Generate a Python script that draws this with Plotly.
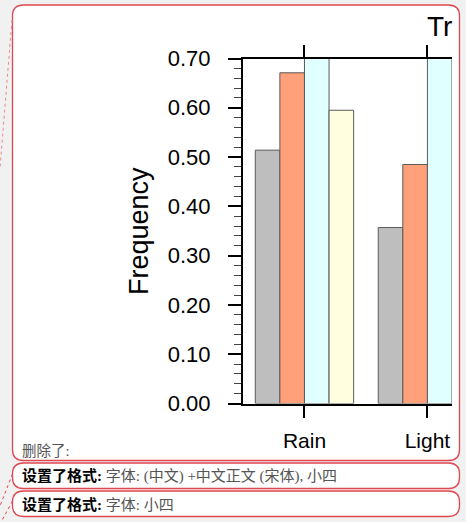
import plotly.graph_objects as go

W, H = 466, 522

# ---- data ----
categories = ["Rain", "Light"]
gray_vals = [0.514, 0.357]
orange_vals = [0.671, 0.485]
cyan_vals = [0.78, 0.80]      # exceed the 0.70 axis top (clipped in the picture)
yellow_vals = [0.595, None]   # second value lies outside the visible crop
y_ticks = [0.0, 0.1, 0.2, 0.3, 0.4, 0.5, 0.6, 0.7]
y_ticklabels = ["%.2f" % v for v in y_ticks]
title_text = "Tr"
ytitle = "Frequency"
note_deleted = "删除了:"
note_fmt1_label = "设置了格式:"
note_fmt1_text = " 字体: (中文) +中文正文 (宋体), 小四"
note_fmt2_label = "设置了格式:"
note_fmt2_text = " 字体: 小四"

def px(x):
    return x / W

def py(y):
    return 1 - y / H

def rrect(x0, y0, x1, y1, r):
    pts = [
        f"M {px(x0 + r)},{py(y0)}",
        f"L {px(x1 - r)},{py(y0)}",
        f"Q {px(x1)},{py(y0)} {px(x1)},{py(y0 + r)}",
        f"L {px(x1)},{py(y1 - r)}",
        f"Q {px(x1)},{py(y1)} {px(x1 - r)},{py(y1)}",
        f"L {px(x0 + r)},{py(y1)}",
        f"Q {px(x0)},{py(y1)} {px(x0)},{py(y1 - r)}",
        f"L {px(x0)},{py(y0 + r)}",
        f"Q {px(x0)},{py(y0)} {px(x0 + r)},{py(y0)}",
        "Z",
    ]
    return " ".join(pts)

RED = "#e0474f"
fig = go.Figure()

edge = dict(color="#5a5a5a", width=1)
fig.add_trace(go.Bar(x=categories, y=gray_vals, marker=dict(color="#bebebe", line=edge)))
fig.add_trace(go.Bar(x=categories, y=orange_vals, marker=dict(color="#ffa07a", line=edge)))
fig.add_trace(go.Bar(x=categories, y=cyan_vals, marker=dict(color="#e0ffff", line=edge)))
fig.add_trace(go.Bar(x=categories, y=yellow_vals, marker=dict(color="#ffffe0", line=edge)))

shapes = [
    dict(type="path", xref="paper", yref="paper", path=rrect(12.5, 5, 459.5, 460.5, 11),
         line=dict(color=RED, width=1.3), fillcolor="white", layer="below"),
    dict(type="path", xref="paper", yref="paper", path=rrect(12.5, 463, 459.5, 488.5, 11),
         line=dict(color=RED, width=1.3), fillcolor="white", layer="below"),
    dict(type="path", xref="paper", yref="paper", path=rrect(12.5, 491, 459.5, 516.5, 11),
         line=dict(color=RED, width=1.3), fillcolor="white", layer="below"),
    dict(type="line", xref="paper", yref="paper", x0=px(12), y0=py(20), x1=px(0), y1=py(168),
         line=dict(color="#e88a8f", width=1, dash="dot"), layer="below"),
    dict(type="line", xref="paper", yref="paper", x0=px(12.5), y0=py(474), x1=px(0), y1=py(506),
         line=dict(color=RED, width=1, dash="dot"), layer="below"),
    dict(type="line", xref="paper", yref="paper", x0=px(12.5), y0=py(501), x1=px(0), y1=py(524),
         line=dict(color=RED, width=1, dash="dot"), layer="below"),
]

CJK = "Liberation Serif, Noto Sans CJK SC"
annotations = [
    dict(text=title_text, xref="paper", yref="paper", x=px(425), y=py(44), xanchor="left", yanchor="bottom",
         showarrow=False, font=dict(family="Liberation Sans", size=28, color="black")),
    dict(text=ytitle, xref="paper", yref="paper", x=px(139), y=py(231), textangle=-90,
         xanchor="center", yanchor="middle", showarrow=False,
         font=dict(family="Liberation Sans", size=27, color="black")),
    dict(text=note_deleted, xref="paper", yref="paper", x=px(20), y=py(451), xanchor="left", yanchor="middle",
         showarrow=False, font=dict(family=CJK, size=14.5, color="#555555")),
    dict(text="<b>" + note_fmt1_label + "</b>" + "<span style='color:#555555'>" + note_fmt1_text + "</span>",
         xref="paper", yref="paper", x=px(20), y=py(476), xanchor="left", yanchor="middle",
         showarrow=False, font=dict(family=CJK, size=15, color="black")),
    dict(text="<b>" + note_fmt2_label + "</b>" + "<span style='color:#555555'>" + note_fmt2_text + "</span>",
         xref="paper", yref="paper", x=px(20), y=py(504), xanchor="left", yanchor="middle",
         showarrow=False, font=dict(family=CJK, size=15, color="black")),
]

fig.update_layout(
    width=W, height=H,
    margin=dict(l=0, r=0, t=0, b=0, autoexpand=False),
    paper_bgcolor="#f1f1f1",
    plot_bgcolor="rgba(0,0,0,0)",
    showlegend=False,
    barmode="group", bargap=0.2, bargroupgap=0,
    shapes=shapes, annotations=annotations,
    xaxis=dict(
        domain=[px(243), px(452)], range=[-0.5, 1.2], type="category",
        automargin=False,
        showline=True, linecolor="black", linewidth=2, mirror="ticks",
        ticks="outside", ticklen=12, tickwidth=2, tickcolor="black",
        showgrid=False, zeroline=False,
        tickfont=dict(family="Liberation Sans", size=21, color="black"),
        ticklabelstandoff=5,
    ),
    yaxis=dict(
        domain=[py(403.5), py(58.5)], range=[0, 0.70],
        automargin=False,
        tickvals=y_ticks, ticktext=y_ticklabels,
        showline=True, linecolor="black", linewidth=2,
        ticks="outside", ticklen=13, tickwidth=2, tickcolor="black",
        minor=dict(dtick=0.02, ticks="outside", ticklen=7, tickwidth=1, tickcolor="#444444"),
        showgrid=False, zeroline=False,
        tickfont=dict(family="Liberation Sans", size=22, color="black"),
        ticklabelstandoff=13,
    ),
)

fig.write_html("out.html", config={"displayModeBar": False})

# pin the figure to the window origin and keep the page exactly the figure's size
with open("out.html", "r", encoding="utf-8") as f:
    html = f.read()
css = ("<style>html,body{margin:0;padding:0;overflow:hidden;width:466px;height:522px;}"
       ".plotly-graph-div{position:absolute!important;left:0;top:0;}</style>")
html = html.replace("<head>", "<head>" + css, 1)
with open("out.html", "w", encoding="utf-8") as f:
    f.write(html)
